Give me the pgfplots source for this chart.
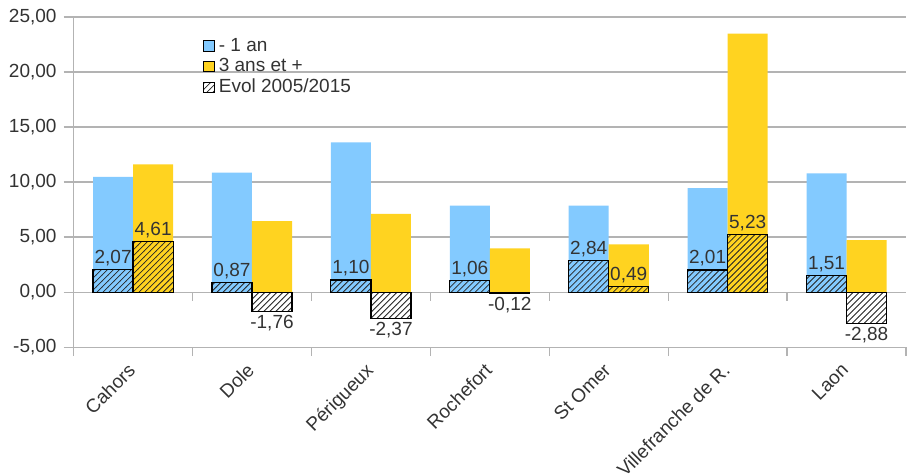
\documentclass[border=0pt]{standalone}
\usepackage{fontspec}
\setmainfont{Liberation Sans}
\usepackage{pgfplots}
\usepackage{pgfplotstable}
\pgfplotsset{compat=1.18}
\usetikzlibrary{patterns}
\definecolor{cblue}{HTML}{83CAFF}
\definecolor{cyellow}{HTML}{FFD320}
\definecolor{cgrid}{HTML}{B3B3B3}
\definecolor{ctext}{HTML}{333333}
\pgfplotstableread{
x a b e1 e2
0 10.48 11.60 2.07 4.61
1 10.85 6.45 0.87 -1.76
2 13.60 7.12 1.10 -2.37
3 7.85 3.97 1.06 -0.12
4 7.85 4.34 2.84 0.49
5 9.45 23.50 2.01 5.23
6 10.78 4.72 1.51 -2.88
}\data
\begin{document}
\begin{tikzpicture}
\begin{axis}[name=ax, scale only axis, width=416pt, height=165pt,
  font=\fontsize{9.5}{11}\selectfont,
  /pgf/number format/assume math mode=true,
  xmin=-0.5, xmax=6.5, ymin=-5, ymax=25,
  ytick={-5,0,5,10,15,20,25},
  y tick label style={/pgf/number format/fixed, /pgf/number format/fixed zerofill,
    /pgf/number format/precision=2, /pgf/number format/use comma, /tikz/text=ctext},
  axis x line*=bottom, axis y line*=left,
  axis line style={cgrid, line width=0.6pt},
  ymajorgrids, grid style={cgrid, line width=0.6pt},
  tick align=outside, major tick length=5pt, minor tick length=4.5pt,
  tick style={cgrid, line width=0.6pt},
  xtick={0,...,6},
  xticklabels={Cahors,Dole,Périgueux,Rochefort,St Omer,Villefranche de R.,Laon},
  x tick label style={rotate=45, anchor=north east, text=ctext, yshift=4pt, xshift=-0.5pt},
  major x tick style={draw=none},
  minor xtick={-0.5,0.5,...,6.5},
  ybar, bar width=20pt,
  legend style={draw=none, fill=none, at={(0.148,0.962)}, anchor=north west,
    font=\fontsize{9.5}{11}\selectfont, row sep=-1.8pt, text=ctext},
  legend cell align=left,
  legend image code/.code={\draw[#1] (0pt,-2.6pt) rectangle (5.2pt,2.6pt);},
]
\addplot[fill=cblue, draw=none, bar shift=-10pt] table[x=x,y=a]{\data};
\addlegendentry{- 1 an}
\addplot[fill=cyellow, draw=none, bar shift=10pt] table[x=x,y=b]{\data};
\addlegendentry{3 ans et +}
\addplot[pattern=north east lines, pattern color=black!85, draw=black, line width=0.6pt, bar shift=-10pt,
  nodes near coords={\pgfmathprintnumber[fixed,fixed zerofill,precision=2,use comma]{\pgfplotspointmeta}},
  every node near coord/.append style={text=ctext, font=\fontsize{9.5}{11}\selectfont, inner sep=1.5pt}]
  table[x=x,y=e1]{\data};
\addlegendentry{Evol 2005/2015}
\addplot[pattern=north east lines, pattern color=black!85, draw=black, line width=0.6pt, bar shift=10pt, forget plot,
  nodes near coords={\pgfmathprintnumber[fixed,fixed zerofill,precision=2,use comma]{\pgfplotspointmeta}},
  every node near coord/.append style={text=ctext, font=\fontsize{9.5}{11}\selectfont, inner sep=1.5pt}]
  table[x=x,y=e2]{\data};
\pgfplotsinvokeforeach{0.5,1.5,2.5,3.5,4.5,5.5}{
  \draw[cgrid, line width=0.6pt] (axis cs:#1,0) -- ([yshift=-4.5pt]axis cs:#1,0);
}
\end{axis}
\pgfresetboundingbox
\path ([shift={(-36.8pt,-63pt)}]ax.south west) rectangle ([shift={(1.5pt,8.5pt)}]ax.north east);
\end{tikzpicture}
\end{document}
